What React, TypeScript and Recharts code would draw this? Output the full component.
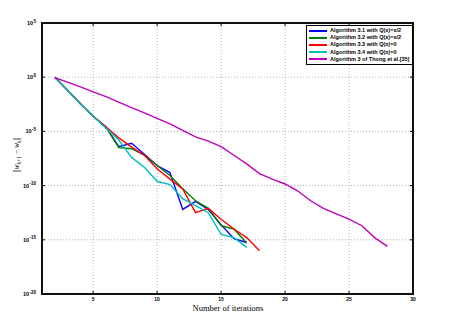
import { LineChart, Line, XAxis, YAxis, CartesianGrid } from 'recharts';

// exponents (log10 of ||w_{k+1} - w_k||), first value at iteration 2
const alg31 = [0, -1.2, -2.45, -3.6, -4.6, -6.4, -6.1, -7.1, -8.15, -8.8, -12.2, -11.45, -12.2, -13.6, -14.9, -15.25];
const alg32 = [0, -1.2, -2.45, -3.6, -4.6, -6.5, -6.6, -7.2, -8.15, -9.07, -10.3, -11.4, -12.1, -13.7, -14.0, -15.3];
const alg33 = [0, -1.2, -2.45, -3.6, -4.6, -5.6, -6.45, -7.2, -8.45, -9.4, -10.3, -12.5, -12.1, -13.1, -14.0, -14.8, -16.0];
const alg34 = [0, -1.2, -2.45, -3.6, -4.7, -5.8, -7.4, -8.3, -9.6, -9.9, -11.2, -11.85, -12.5, -14.5, -14.8, -15.7];
const thong = [
  -0.05, -0.45, -0.9, -1.35, -1.8, -2.3, -2.8, -3.3, -3.8, -4.3, -4.9, -5.5, -5.9, -6.4,
  -7.2, -8.0, -8.9, -9.4, -9.85, -10.5, -11.4, -12.1, -12.6, -13.1, -13.7, -14.8, -15.6,
];

const xTicks = [5, 10, 15, 20, 25, 30];
const yExps = [-20, -15, -10, -5, 0, 5];

const series = [
  { key: 'a31', name: 'Algorithm 3.1 with Q(x)=x/2', color: '#0000ff', vals: alg31 },
  { key: 'a32', name: 'Algorithm 3.2 with Q(x)=x/2', color: '#008000', vals: alg32 },
  { key: 'a33', name: 'Algorithm 3.3 with Q(x)=0', color: '#ff0000', vals: alg33 },
  { key: 'a34', name: 'Algorithm 3.4 with Q(x)=0', color: '#00bfbf', vals: alg34 },
  { key: 'thong', name: 'Algorithm 3 of Thong et al.[35]', color: '#bf00bf', vals: thong },
];

const data = thong.map((_, i) => {
  const row: Record<string, number | undefined> = { it: i + 2 };
  series.forEach((s) => {
    row[s.key] = i < s.vals.length ? Math.pow(10, s.vals[i]) : undefined;
  });
  return row;
});

// plot box (from chart size and margins)
const W = 453;
const H = 329;
const M = { top: 23, right: 40, left: 12, bottom: 15 };
const Y_AXIS_W = 30;
const X_AXIS_H = 20;
const PL = M.left + Y_AXIS_W;
const PR = W - M.right;
const PT = M.top;
const PB = H - M.bottom - X_AXIS_H;

const YTick = (props: any) => {
  const { y, payload } = props;
  const e = Math.round(Math.log10(payload.value));
  return (
    <g>
      <line x1={PL} x2={PL + 3} y1={y} y2={y} stroke="#000" strokeWidth={1} />
      <line x1={PR - 3} x2={PR} y1={y} y2={y} stroke="#000" strokeWidth={1} />
      <text x={PL - 6} y={y + 2} fontSize={5.5} fontFamily="Liberation Sans, Arial" fontWeight="bold" textAnchor="end" fill="#000">
        10
        <tspan dx={0.3} dy={-2.5} fontSize={4.5}>
          {e}
        </tspan>
      </text>
    </g>
  );
};

const XTick = (props: any) => {
  const { x, payload } = props;
  return (
    <g>
      <line x1={x} x2={x} y1={PB - 3} y2={PB} stroke="#000" strokeWidth={1} />
      <line x1={x} x2={x} y1={PT} y2={PT + 3} stroke="#000" strokeWidth={1} />
      <text x={x} y={PB + 6.5} fontSize={5} fontFamily="Liberation Sans, Arial" fontWeight="bold" textAnchor="middle" fill="#000">
        {payload.value}
      </text>
    </g>
  );
};

const LegendBox = () => (
  <div
    style={{
      position: 'absolute',
      left: 306,
      top: 25,
      border: '1.3px solid #000',
      background: '#fff',
      width: 101,
      padding: '1px 2px 1px 2px',
      fontFamily: 'Liberation Sans, Arial',
      fontWeight: 'bold',
      fontSize: 5.5,
      lineHeight: '7.2px',
    }}
  >
    {series.map((s) => (
      <div key={s.key} style={{ display: 'flex', alignItems: 'center', whiteSpace: 'nowrap' }}>
        <span style={{ display: 'inline-block', width: 18, height: 2, background: s.color, marginRight: 3 }} />
        {s.name}
      </div>
    ))}
  </div>
);

export default function App() {
  return (
    <div style={{ position: 'absolute', left: 0, top: 0, width: W, height: H, background: '#fff' }}>
      <LineChart width={W} height={H} data={data} margin={M}>
        <CartesianGrid stroke="#999" strokeDasharray="1 2" strokeWidth={0.8} />
        <XAxis
          dataKey="it"
          type="number"
          domain={[1, 30]}
          ticks={xTicks}
          height={X_AXIS_H}
          tick={<XTick />}
          tickLine={false}
          axisLine={false}
        />
        <YAxis
          type="number"
          scale="log"
          domain={[1e-20, 1e5]}
          allowDataOverflow
          ticks={yExps.map((e) => Math.pow(10, e))}
          width={Y_AXIS_W}
          tick={<YTick />}
          tickLine={false}
          axisLine={false}
        />
        {series.map((s) => (
          <Line
            key={s.key}
            dataKey={s.key}
            name={s.name}
            stroke={s.color}
            strokeWidth={1.4}
            dot={false}
            type="linear"
            connectNulls={false}
            isAnimationActive={false}
          />
        ))}
        <text x={228} y={311} textAnchor="middle" fontFamily="Liberation Serif, Times New Roman" fontSize={8.5} fill="#000">
          Number of iterations
        </text>
        <text
          x={19}
          y={155}
          transform="rotate(-90 19 155)"
          textAnchor="middle"
          fontFamily="Liberation Serif, Times New Roman"
          fontSize={7.5}
          fill="#000"
        >
          ||<tspan fontStyle="italic">w</tspan>
          <tspan fontSize={5.5} dy={1.5} fontStyle="italic">k</tspan>
          <tspan fontSize={5.5}>+1</tspan>
          <tspan dy={-1.5}> − </tspan>
          <tspan fontStyle="italic">w</tspan>
          <tspan fontSize={5.5} dy={1.5} fontStyle="italic">k</tspan>
          <tspan dy={-1.5}>||</tspan>
        </text>
      </LineChart>
      <div
        style={{
          position: 'absolute',
          boxSizing: 'border-box',
          left: PL - 1,
          top: PT - 1,
          width: PR - PL + 2,
          height: PB - PT + 2,
          border: '2px solid #111',
          pointerEvents: 'none',
        }}
      />
      <LegendBox />
    </div>
  );
}
